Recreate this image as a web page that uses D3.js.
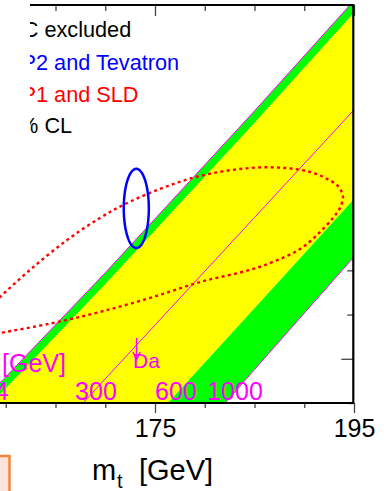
<!DOCTYPE html>
<html>
<head>
<meta charset="utf-8">
<script src="https://cdn.jsdelivr.net/npm/d3@7"></script>
<style>
  html, body { margin: 0; padding: 0; background: #fff; overflow: hidden; }
  text { font-family: "Liberation Sans", Arial, Helvetica, sans-serif; }
</style>
</head>
<body>
<svg id="chart" width="386" height="491"></svg>
<script>
// Top-quark mass grid (GeV) on which the SM W-mass predictions are tabulated
const mtGrid = [158, 170, 185, 197];

// SM prediction of mW (GeV) versus mt for fixed Higgs masses
const mw114  = [80.2824, 80.3389, 80.4121, 80.4720];
const mw127  = [80.2772, 80.3337, 80.4066, 80.4665];
const mw300  = [80.2325, 80.2909, 80.3639, 80.4223];
const mw600  = [80.1896, 80.2489, 80.3229, 80.3822];
const mw1000 = [80.1574, 80.2186, 80.2951, 80.3563];

// Higgs-mass line labels
const higgsMasses = [114, 300, 600, 1000];

// Indirect (LEP1 and SLD) 68% CL contour, (mt, mW) in GeV
const lepMt = [157.01, 158.02, 159.42, 162.44, 166.16, 169.47, 171.78, 175.50, 179.52, 184.55,
               188.07, 190.58, 192.09, 193.39, 193.89, 193.59, 192.89, 191.38, 189.57, 187.06,
               184.55, 179.52, 174.50, 169.47, 164.75, 159.42, 158.02];
const lepMw = [80.3144, 80.3216, 80.3279, 80.3402, 80.3537, 80.3637, 80.3695, 80.3768, 80.3827, 80.3863,
               80.3863, 80.3845, 80.3818, 80.3781, 80.3732, 80.3682, 80.3637, 80.3564, 80.3496, 80.3442,
               80.3402, 80.3347, 80.3275, 80.3212, 80.3162, 80.3117, 80.3108];

// Direct (LEP2 and Tevatron) 68% CL ellipse: centre and half-axes (mt, mW)
const directCentre = [173.12, 80.3680];
const directHalfAxes = [1.26, 0.0179];

// Legend entries
const legendLabels = ["LHC excluded", "LEP2 and Tevatron", "LEP1 and SLD", "68% CL"];
const legendColours = ["#000000", "#0000ff", "#ff0000", "#000000"];

const svg = d3.select("#chart");

const x = d3.scaleLinear().domain([155, 195]).range([-44, 354]);
const y = d3.scaleLinear().domain([80.28, 80.46]).range([403, 5]);

const defs = svg.append("defs");
defs.append("clipPath").attr("id", "plotArea").append("rect")
  .attr("x", x(155)).attr("y", y(80.46))
  .attr("width", x(195) - x(155)).attr("height", y(80.28) - y(80.46));
defs.append("clipPath").attr("id", "legendArea").append("rect")
  .attr("x", 30).attr("y", -10).attr("width", 400).attr("height", 520);

// ---- ticks -----------------------------------------------------------
const xAll = x.ticks(8);
const xMajor = xAll.filter(v => v % 20 === 15);
const xMinor = xAll.filter(v => v % 20 !== 15);
const yAll = y.ticks(9);
const yMajor = yAll.filter(v => Math.round(v * 100) % 10 === 0);
const yMinor = yAll.filter(v => Math.round(v * 100) % 10 !== 0);

function styleAxis(g) {
  g.select(".domain").remove();
  g.selectAll(".tick line").attr("stroke", "#444").attr("stroke-width", 1.3);
}

// right axis (ticks point into the plot, drawn under the bands)
svg.append("g").attr("transform", `translate(${x(195) - 0.7},0)`)
  .call(d3.axisLeft(y).tickValues(yMajor).tickSize(12).tickFormat(""))
  .call(styleAxis);
svg.append("g").attr("transform", `translate(${x(195) - 0.7},0)`)
  .call(d3.axisLeft(y).tickValues(yMinor).tickSize(6).tickFormat(""))
  .call(styleAxis);

// top axis (ticks point down, into the plot)
const topAxis = svg.append("g").attr("clip-path", "url(#legendArea)");
topAxis.append("g").attr("transform", `translate(0,${y(80.46)})`)
  .call(d3.axisBottom(x).tickValues(xMajor).tickSize(11).tickFormat(""))
  .call(styleAxis);
topAxis.append("g").attr("transform", `translate(0,${y(80.46)})`)
  .call(d3.axisBottom(x).tickValues(xMinor).tickSize(6).tickFormat(""))
  .call(styleAxis);

// bottom axis (ticks point down, outside)
svg.append("g").attr("transform", `translate(0,${y(80.28)})`)
  .call(d3.axisBottom(x).tickValues(xMinor).tickSize(5).tickFormat(""))
  .call(styleAxis);
const bottomMajor = svg.append("g").attr("transform", `translate(0,${y(80.28)})`)
  .call(d3.axisBottom(x).tickValues(xMajor).tickSize(10).tickPadding(6).tickFormat(d3.format("d")))
  .call(styleAxis);
bottomMajor.selectAll("text")
  .attr("font-family", "'Liberation Sans', Arial, sans-serif")
  .attr("font-size", 25).attr("fill", "#000");

// ---- SM bands --------------------------------------------------------
const pts = arr => mtGrid.map((m, i) => [m, arr[i]]);
const line = d3.line().x(d => x(d[0])).y(d => y(d[1]));
const band = (upper, lower) => line(pts(upper).concat(pts(lower).reverse())) + "Z";

const bands = svg.append("g").attr("clip-path", "url(#plotArea)");
bands.append("path").attr("d", band(mw114, mw127)).attr("fill", "#00ff00");
bands.append("path").attr("d", band(mw127, mw600)).attr("fill", "#ffff00");
bands.append("path").attr("d", band(mw600, mw1000)).attr("fill", "#00ff00");
[mw114, mw300, mw1000].forEach(arr => {
  bands.append("path").attr("d", line(pts(arr)))
    .attr("fill", "none").attr("stroke", "#ff00ff").attr("stroke-width", 1);
});

// ---- contours --------------------------------------------------------
const contours = svg.append("g").attr("clip-path", "url(#plotArea)");
const lepPts = lepMt.map((m, i) => [m, lepMw[i]]);
contours.append("path")
  .attr("d", d3.line().x(d => x(d[0])).y(d => y(d[1])).curve(d3.curveCatmullRomClosed)(lepPts))
  .attr("fill", "none").attr("stroke", "#ff0000").attr("stroke-width", 2.4)
  .attr("stroke-dasharray", "3 3.3");

const ellipsePts = d3.range(0, 2 * Math.PI, Math.PI / 90).map(t => [
  directCentre[0] + directHalfAxes[0] * Math.cos(t),
  directCentre[1] + directHalfAxes[1] * Math.sin(t)
]);
contours.append("path")
  .attr("d", line(ellipsePts) + "Z")
  .attr("fill", "none").attr("stroke", "#0000ff").attr("stroke-width", 2.5);

// ---- Delta-alpha shift arrow ----------------------------------------
const arrowX = x(173.15);
svg.append("path")
  .attr("d", `M${arrowX},${y(80.3094)}L${arrowX},${y(80.2995)}` +
             `M${arrowX - 3.6},${y(80.3031)}L${arrowX},${y(80.2995)}L${arrowX + 3.6},${y(80.3031)}`)
  .attr("fill", "none").attr("stroke", "#ff00ff").attr("stroke-width", 1.4);
svg.append("text").attr("x", arrowX - 3.5).attr("y", 368)
  .attr("font-size", 21).attr("fill", "#ff00ff").text("Da");

// ---- Higgs-mass labels ----------------------------------------------
const mhLines = [mw114, mw300, mw600, mw1000];
const labelShift = [8, 13, 8, 10];
higgsMasses.forEach((mh, i) => {
  const crossing = d3.scaleLinear().domain(mhLines[i]).range(mtGrid)(80.28);
  svg.append("text")
    .attr("x", x(crossing) + labelShift[i]).attr("y", 400)
    .attr("text-anchor", "middle").attr("font-size", 25).attr("fill", "#ff00ff")
    .text(mh);
});
const mhTitle = svg.append("text").attr("x", 66).attr("y", 372)
  .attr("text-anchor", "end").attr("font-size", 25).attr("fill", "#ff00ff");
mhTitle.append("tspan").text("m");
mhTitle.append("tspan").attr("font-size", 17).attr("dy", 6).text("H");
mhTitle.append("tspan").attr("dy", -6).text(" [GeV]");

// ---- frame -----------------------------------------------------------
const frame = svg.append("g").attr("stroke", "#000").attr("stroke-width", 2.2).attr("fill", "none");
frame.append("path").attr("clip-path", "url(#legendArea)")
  .attr("d", `M${x(155)},${y(80.46)}L${x(195)},${y(80.46)}`);
frame.append("path").attr("d", `M${x(195) - 0.7},${y(80.46) - 1}L${x(195) - 0.7},${y(80.28) + 1}`);
frame.append("path").attr("d", `M${x(155)},${y(80.28)}L${x(195)},${y(80.28)}`);

// ---- legend ----------------------------------------------------------
const legend = svg.append("g").attr("clip-path", "url(#legendArea)");
const legendBaselines = [37, 70, 102, 133];
legendLabels.forEach((t, i) => {
  legend.append("text").attr("x", -5).attr("y", legendBaselines[i])
    .attr("font-size", 21.7).attr("fill", legendColours[i]).text(t);
});

// ---- x-axis title ----------------------------------------------------
const xTitle = svg.append("text").attr("y", 480).attr("font-size", 29).attr("fill", "#000");
xTitle.append("tspan").attr("x", 92).text("m");
xTitle.append("tspan").attr("x", 117).attr("dy", 8).attr("font-size", 20).text("t");
xTitle.append("tspan").attr("x", 139).attr("dy", -8).text("[GeV]");

// ---- neighbouring panel box -----------------------------------------
svg.append("rect").attr("x", -40).attr("y", 456).attr("width", 49.5).attr("height", 60)
  .attr("fill", "#fde4da").attr("stroke", "#f4843c").attr("stroke-width", 2.5);
</script>
</body>
</html>
